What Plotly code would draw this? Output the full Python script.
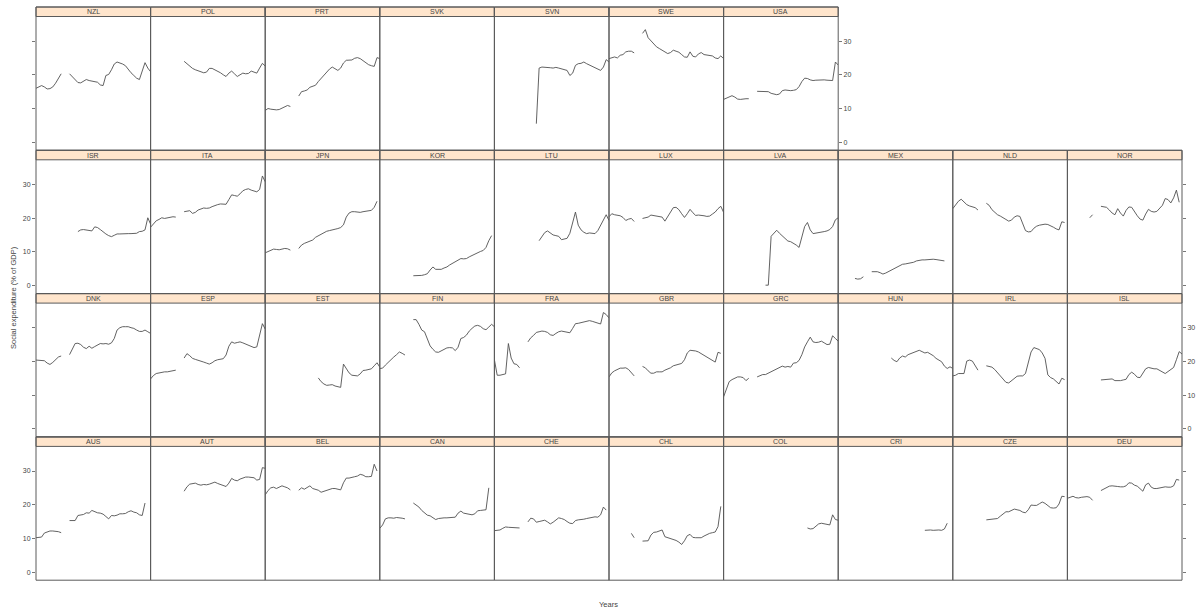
import plotly.graph_objects as go

N = None
YEARS = list(range(1980, 2022))

# ---- data: social expenditure (% of GDP), one value per year 1980..2021 ----
NZL = [16.0, 16.3, 16.8, 16.4, 15.8, 15.9, 16.4, 17.5, 18.8, 20.3, N, N,
       20.3, 19.4, 18.3, 17.7, 17.6, 18.2, 18.6, 18.3, 18.2, 17.9, 17.8, 17.0, 16.8, 19.8, 20.1,
       21.5, 23.2, 23.8, 23.6, 23.2, 22.7, 21.5, 20.6, 19.8, 19.0, 18.6, 21.5, 23.6, 22.0, 20.9]
POL = [N, N, N, N, N, N, N, N, N, N, N, N,
       24.0, 23.2, 22.6, 21.9, 21.5, 21.2, 21.0, 20.6, 20.8, 21.9, 21.9, 21.5, 21.0, 20.6, 20.0,
       19.5, 20.5, 21.1, 20.3, 19.5, 20.0, 20.5, 20.3, 20.4, 21.1, 20.8, 20.5, 22.0, 23.4, 22.6]
PRT = [9.4, 10.0, 9.8, 9.6, 9.6, 9.7, 10.1, 10.6, 10.9, 10.6, N, N,
       13.7, 15.0, 15.2, 15.5, 16.3, 16.5, 16.9, 18.0, 19.0, 19.9, 21.0, 21.7, 22.3, 21.9, 21.3,
       22.0, 23.5, 24.3, 24.3, 24.4, 24.9, 25.1, 24.8, 24.2, 23.6, 23.0, 22.7, 22.5, 25.1, 24.8]
SVK = []
SVN = [N, N, N, N, N, N, N, N, N, N, N, N, N, N, N,
       5.5, 22.0, 22.3, 22.3, 22.2, 22.1, 22.0, 22.2, 22.0, 21.8, 21.6, 21.3, 19.8, 20.5, 22.8,
       23.3, 23.4, 23.8, 23.3, 22.9, 22.5, 22.0, 21.5, 21.3, 22.3, 24.5, 23.8]
SWE = [24.8, 25.0, 25.3, 25.0, 25.8, 26.0, 26.8, 27.0, 27.0, 26.5, N, N,
       32.3, 33.4, 31.0, 30.0, 29.2, 28.3, 27.8, 27.3, 26.6, 26.3, 26.6, 27.3, 27.0, 26.7, 26.0,
       25.3, 25.2, 26.8, 25.5, 25.3, 26.2, 26.6, 26.0, 25.9, 25.6, 25.6, 25.0, 24.8, 25.6, 24.8]
USA = [12.7, 13.0, 13.4, 13.8, 13.4, 12.8, 12.7, 12.9, 12.9, 12.9, N, N,
       15.1, 15.1, 15.1, 15.1, 15.0, 14.5, 14.2, 14.1, 14.3, 15.3, 15.5, 15.3, 15.3, 15.4, 15.6,
       16.5, 18.0, 19.0, 18.9, 18.5, 18.3, 18.4, 18.5, 18.4, 18.5, 18.4, 18.3, 18.3, 23.8, 22.9]

ISR = [N, N, N, N, N, N, N, N, N, N, N, N, N, N, N,
       16.0, 16.5, 16.6, 16.4, 16.3, 16.2, 17.4, 17.2, 16.6, 15.8, 15.3, 14.8, 14.5, 14.9, 15.3,
       15.3, 15.4, 15.4, 15.4, 15.4, 15.5, 15.5, 16.0, 16.1, 16.5, 20.1, 18.2]
ITA = [17.3, 18.3, 19.2, 19.6, 20.1, 19.9, 20.1, 20.3, 20.4, 20.3, N, N,
       21.9, 22.0, 22.2, 21.4, 21.7, 22.4, 22.6, 23.0, 22.9, 23.0, 23.4, 23.8, 24.0, 24.2, 24.1,
       24.1, 25.5, 26.9, 26.7, 26.5, 27.2, 28.1, 28.5, 28.7, 28.3, 28.0, 27.8, 28.5, 32.5, 30.8]
JPN = [9.7, 10.1, 10.5, 10.8, 10.7, 10.6, 10.8, 11.0, 10.9, 10.5, N, N,
       11.0, 12.0, 12.5, 12.8, 13.0, 13.5, 14.3, 14.8, 15.3, 15.7, 16.1, 16.3, 16.4, 16.7, 16.9,
       17.2, 18.0, 20.3, 21.5, 21.9, 21.9, 21.7, 21.7, 21.9, 22.0, 22.1, 22.3, 23.2, 25.0, N]
KOR = [N, N, N, N, N, N, N, N, N, N, N, N,
       2.9, 2.9, 2.9, 3.0, 3.2, 3.5, 4.6, 5.5, 4.8, 4.8, 4.8, 5.2, 5.5, 6.1, 6.6,
       6.9, 7.5, 8.0, 7.9, 8.0, 8.5, 8.9, 9.4, 9.9, 10.1, 10.4, 11.3, 13.3, 14.8, N]
LTU = [N, N, N, N, N, N, N, N, N, N, N, N, N, N, N, N,
       13.3, 14.5, 15.7, 16.2, 15.5, 15.0, 14.8, 14.6, 13.6, 13.8, 14.0, 15.5, 19.0, 21.8, 17.9,
       16.5, 15.8, 15.4, 15.6, 15.6, 15.4, 16.3, 17.8, 19.5, 21.0, 19.3]
LUX = [20.4, 21.3, 21.0, 20.8, 20.7, 20.2, 19.3, 19.7, 19.9, 19.0, N, N,
       19.9, 20.0, 20.3, 20.9, 20.8, 20.6, 20.5, 20.3, 19.1, 20.5, 21.9, 23.1, 23.2, 22.5, 21.3,
       20.2, 21.3, 22.6, 21.6, 20.8, 20.9, 20.9, 20.7, 20.5, 20.6, 21.2, 21.8, 22.8, 23.5, 21.7]
LVA = [N, N, N, N, N, N, N, N, N, N, N, N, N, N, N,
       0.1, 0.1, 14.6, 15.6, 16.4, 15.5, 14.7, 14.0, 13.2, 13.0, 12.6, 12.0, 11.3, 14.5, 17.5,
       18.7, 16.5, 15.4, 15.5, 15.7, 15.8, 16.0, 16.2, 16.6, 17.5, 19.5, 20.1]
MEX = [N, N, N, N, N, N, 2.1, 1.9, 2.0, 2.6, N, N,
       4.1, 4.2, 4.1, 3.8, 3.4, 3.7, 4.1, 4.5, 4.9, 5.4, 5.9, 6.3, 6.4, 6.5, 6.6,
       6.9, 7.3, 7.5, 7.6, 7.6, 7.7, 7.7, 7.8, 7.7, 7.5, 7.4, 7.3, N, N, N]
NLD = [22.8, 23.8, 25.0, 25.6, 24.7, 24.0, 23.6, 23.3, 23.1, 22.4, N, N,
       24.4, 23.8, 22.5, 21.8, 21.0, 20.6, 20.2, 19.6, 19.1, 19.4, 20.3, 20.7, 20.5, 18.2, 16.3,
       15.9, 16.0, 17.0, 17.6, 17.9, 18.1, 18.2, 18.1, 17.8, 17.3, 16.8, 16.5, 18.9, 18.7, N]
NOR = [N, N, N, N, N, N, N, N, 20.1, 21.0, N, N,
       23.5, 23.4, 23.2, 22.4, 21.5, 21.0, 22.8, 21.5, 20.6, 22.3, 23.3, 23.2, 21.8, 20.7, 19.7,
       19.4, 21.2, 22.6, 22.0, 21.8, 22.0, 22.8, 23.8, 25.8, 25.5, 24.5, 26.0, 28.3, 24.7, N]

DNK = [20.4, 20.4, 20.4, 20.2, 19.5, 19.1, 19.7, 20.6, 21.3, 21.6, N, N,
       22.0, 23.8, 25.3, 25.4, 25.0, 24.2, 23.8, 24.5, 23.9, 24.4, 24.8, 25.3, 25.2, 25.3, 25.1,
       25.5, 26.8, 29.3, 30.0, 30.3, 30.3, 30.3, 30.0, 29.8, 29.3, 28.9, 28.9, 29.3, 28.8, 28.3]
ESP = [14.8, 15.8, 16.4, 16.6, 16.8, 16.9, 16.9, 17.1, 17.2, 17.4, N, N,
       21.0, 22.3, 21.7, 20.9, 20.6, 20.4, 20.1, 19.8, 19.5, 19.2, 19.6, 20.2, 20.5, 20.6, 20.8,
       21.9, 24.5, 25.8, 25.4, 25.6, 25.8, 25.5, 25.2, 24.8, 24.4, 24.1, 24.3, 27.5, 31.2, 29.6]
EST = [N, N, N, N, N, N, N, N, N, N, N, N, N, N, N, N, N, N, N,
       15.1, 14.0, 13.3, 12.9, 13.0, 13.1, 12.7, 12.5, 12.3, 19.2, 17.8, 16.6, 15.9, 15.7, 15.7,
       16.3, 17.3, 17.4, 17.5, 17.8, 18.7, 19.6, 18.3]
FIN = [17.9, 18.0, 18.9, 19.8, 20.6, 21.3, 22.0, 22.8, 22.4, 21.9, N, N,
       32.4, 32.4, 31.0, 29.3, 28.8, 26.6, 24.6, 23.6, 22.8, 22.7, 23.1, 23.6, 24.0, 24.1, 24.0,
       23.2, 24.2, 26.8, 27.1, 27.8, 29.0, 29.8, 30.5, 30.7, 30.4, 29.7, 29.4, 30.2, 31.0, 30.3]
FRA = [20.5, 15.9, 15.9, 16.1, 16.3, 25.3, 21.0, 19.3, 19.1, 18.1, N, N,
       25.8, 27.0, 27.7, 28.6, 28.8, 29.0, 28.9, 28.6, 27.9, 27.7, 28.3, 28.8, 29.0, 28.9, 28.6,
       28.5, 29.8, 31.2, 31.3, 31.5, 31.7, 31.9, 32.1, 31.9, 31.6, 31.4, 31.1, 34.5, 33.9, 32.9]
GBR = [15.4, 16.6, 17.2, 17.6, 18.0, 18.0, 18.1, 17.6, 16.6, 15.7, N, N,
       18.5, 18.1, 17.2, 16.5, 16.5, 16.9, 16.9, 16.9, 17.4, 17.7, 18.1, 18.7, 19.0, 19.1, 19.4,
       20.5, 22.5, 23.3, 23.3, 23.1, 22.8, 22.3, 21.9, 21.4, 20.9, 20.4, 19.8, 22.7, 22.4, N]
GRC = [9.5, 11.5, 14.0, 14.6, 15.1, 15.4, 15.4, 15.2, 14.3, 15.0, N, N,
       15.4, 15.7, 16.1, 16.1, 16.5, 16.9, 17.3, 17.6, 18.1, 18.6, 18.3, 18.5, 18.3, 19.5, 19.6,
       20.3, 22.0, 24.3, 25.8, 27.2, 25.8, 25.6, 25.7, 26.0, 25.5, 25.0, 25.1, 27.6, 26.8, 26.0]
HUN = [N, N, N, N, N, N, N, N, N, N, N, N, N, N, N, N, N, N, N,
       21.0, 20.3, 19.9, 21.0, 21.6, 21.3, 22.0, 22.3, 22.7, 23.1, 23.3, 22.9, 22.5, 22.7, 22.2,
       21.7, 20.9, 20.3, 19.9, 18.6, 17.9, 18.4, 17.9]
IRL = [15.7, 15.9, 16.4, 16.5, 16.4, 20.1, 20.4, 20.1, 18.9, 17.4, N, N,
       18.7, 18.6, 18.3, 17.6, 16.7, 15.6, 14.8, 13.8, 13.6, 14.2, 14.9, 15.6, 15.7, 15.7, 16.4,
       19.6, 22.8, 24.1, 23.8, 23.5, 22.5, 20.9, 16.0, 15.2, 14.8, 14.1, 13.3, 15.0, 14.6, N]
ISL = [N, N, N, N, N, N, N, N, N, N, N, N,
       14.5, 14.6, 14.7, 14.9, 14.8, 14.3, 14.2, 14.3, 14.5, 14.7, 16.1, 16.8, 16.2, 15.3, 15.2,
       16.4, 17.8, 18.2, 17.9, 17.8, 17.8, 17.3, 17.0, 16.4, 17.0, 17.5, 18.2, 20.5, 22.9, 22.2]

AUS = [10.2, 10.3, 10.4, 11.6, 12.0, 12.2, 12.2, 12.2, 12.0, 11.7, N, N,
       15.3, 15.4, 15.3, 16.8, 17.0, 17.1, 17.6, 17.5, 18.3, 17.9, 17.6, 17.5, 17.2, 16.5, 15.8,
       16.8, 16.7, 16.9, 17.3, 17.3, 17.4, 17.9, 18.2, 17.8, 17.6, 17.0, 16.8, 20.5, N, N]
AUT = [N, N, N, N, N, N, N, N, N, N, N, N,
       24.0, 25.3, 26.1, 26.3, 26.4, 26.0, 25.8, 26.0, 25.9, 26.1, 26.4, 26.7, 26.3, 26.0, 25.7,
       25.4, 26.4, 27.8, 27.3, 27.1, 27.6, 28.0, 28.2, 28.2, 28.2, 28.0, 27.3, 27.5, 31.0, 30.8]
BEL = [22.9, 24.2, 25.0, 25.2, 24.8, 25.2, 25.6, 25.3, 25.0, 24.4, N, N,
       24.3, 25.0, 24.6, 25.2, 25.6, 24.8, 24.5, 24.3, 23.7, 24.0, 24.3, 24.7, 24.8, 24.8, 24.5,
       24.4, 26.5, 27.9, 27.9, 28.0, 28.3, 28.5, 29.0, 28.8, 28.3, 28.3, 28.4, 32.0, 30.0, N]
CAN = [13.0, 14.0, 15.8, 16.1, 16.1, 16.0, 16.2, 16.2, 16.0, 15.8, N, N,
       20.5, 20.0, 19.3, 18.3, 17.6, 16.9, 16.7, 16.2, 15.6, 15.9, 16.1, 16.1, 16.1, 16.1, 16.1,
       16.3, 17.5, 18.1, 17.5, 17.3, 17.0, 17.0, 17.3, 18.2, 18.3, 18.3, 18.5, 25.0, N, N]
CHE = [12.3, 12.4, 12.5, 13.0, 13.4, 13.3, 13.2, 13.2, 13.2, 13.1, N, N,
       14.9, 16.0, 15.8, 14.8, 15.0, 15.3, 15.4, 14.9, 14.3, 14.8, 15.6, 16.1, 15.9, 15.6, 15.0,
       14.5, 14.4, 15.3, 15.5, 15.5, 15.7, 15.9, 16.1, 16.2, 16.4, 16.3, 17.0, 19.3, 18.4, N]
CHL = [N, N, N, N, N, N, N, N, 11.5, 10.2, N, N,
       9.2, 9.2, 9.3, 11.0, 11.8, 11.9, 12.1, 12.5, 10.5, 10.2, 10.0, 9.8, 9.4, 8.9, 8.2,
       9.3, 10.8, 11.2, 10.3, 10.2, 10.2, 10.2, 10.7, 11.2, 11.5, 11.7, 11.9, 13.5, 19.5, N]
COL = [N, N, N, N, N, N, N, N, N, N, N, N, N, N, N, N, N, N, N, N, N, N, N, N, N, N, N, N, N, N,
       13.1, 12.8, 12.9, 13.6, 14.3, 14.5, 14.3, 14.0, 14.0, 17.0, 15.6, 15.4]
CRI = [N, N, N, N, N, N, N, N, N, N, N, N, N, N, N, N, N, N, N, N, N, N, N, N, N, N, N, N, N, N, N,
       12.4, 12.5, 12.5, 12.4, 12.5, 12.5, 12.4, 12.8, 14.5, N, N]
CZE = [N, N, N, N, N, N, N, N, N, N, N, N,
       15.5, 15.6, 15.6, 15.8, 15.9, 16.6, 17.3, 17.9, 17.9, 18.2, 18.7, 18.5, 18.3, 17.8, 17.6,
       18.5, 19.9, 19.8, 19.8, 20.3, 20.8, 20.4, 19.6, 19.1, 19.0, 19.1, 20.2, 22.5, 22.4, N]
DEU = [21.9, 22.3, 22.5, 22.1, 22.0, 22.2, 22.3, 22.4, 22.2, 21.3, N, N,
       24.2, 24.7, 25.2, 25.5, 25.6, 25.6, 25.4, 25.3, 25.3, 25.6, 26.5, 26.4, 25.8, 25.5, 24.8,
       24.0, 25.9, 26.4, 25.2, 24.8, 24.8, 25.0, 25.1, 25.3, 25.2, 25.2, 25.6, 27.5, 27.3, N]

# panel layout, top row first (lattice fills bottom-up)
ROWS = [
    [("NZL", NZL), ("POL", POL), ("PRT", PRT), ("SVK", SVK), ("SVN", SVN), ("SWE", SWE), ("USA", USA)],
    [("ISR", ISR), ("ITA", ITA), ("JPN", JPN), ("KOR", KOR), ("LTU", LTU), ("LUX", LUX),
     ("LVA", LVA), ("MEX", MEX), ("NLD", NLD), ("NOR", NOR)],
    [("DNK", DNK), ("ESP", ESP), ("EST", EST), ("FIN", FIN), ("FRA", FRA), ("GBR", GBR),
     ("GRC", GRC), ("HUN", HUN), ("IRL", IRL), ("ISL", ISL)],
    [("AUS", AUS), ("AUT", AUT), ("BEL", BEL), ("CAN", CAN), ("CHE", CHE), ("CHL", CHL),
     ("COL", COL), ("CRI", CRI), ("CZE", CZE), ("DEU", DEU)],
]
Y_TICKS = [0, 10, 20, 30]

# ---- geometry (pixels) ----
W, H = 1200, 612
X0, PW = 36.0, 114.6
TOPS = [7.0, 150.3, 293.6, 436.9]
STRIP_H = 9.5
CELL_H = 143.3
Y_RANGE = [-2.4, 37.3]
FONT = "Liberation Sans, Arial, sans-serif"
BORDER = "#5a5a5a"
TXT = "#444444"

fig = go.Figure()
layout = dict(
    width=W, height=H, autosize=False,
    margin=dict(l=0, r=0, t=0, b=0),
    paper_bgcolor="white", plot_bgcolor="white",
    showlegend=False, font=dict(family=FONT, size=7, color=TXT),
)
shapes, annotations = [], []

n = 0
for r, row in enumerate(ROWS):
    top = TOPS[r]
    for c, (name, vals) in enumerate(row):
        n += 1
        sfx = "" if n == 1 else str(n)
        xl, xr = X0 + c * PW, X0 + (c + 1) * PW
        yb, yt = top + CELL_H, top + STRIP_H
        layout["xaxis" + sfx] = dict(
            domain=[xl / W, xr / W], range=[YEARS[0], YEARS[-1]],
            visible=False, anchor="y" + sfx, fixedrange=True)
        ydict = dict(
            domain=[1 - yb / H, 1 - yt / H], range=Y_RANGE, anchor="x" + sfx,
            showgrid=False, zeroline=False, showline=False, fixedrange=True,
            tickvals=Y_TICKS, ticks="", showticklabels=False,
            tickfont=dict(size=7, color=TXT, family=FONT),
            ticklen=3, tickcolor="#777", tickwidth=1)
        if c == 0:
            ydict.update(side="left", ticks="outside", showticklabels=(r % 2 == 1))
        elif c == len(row) - 1:
            ydict.update(side="right", ticks="outside", showticklabels=(r % 2 == 0))
        layout["yaxis" + sfx] = ydict

        xs = YEARS[:len(vals)]
        fig.add_trace(go.Scatter(
            x=xs, y=vals, mode="lines", connectgaps=False,
            line=dict(color="#505050", width=0.9),
            xaxis="x" + sfx, yaxis="y" + sfx, hoverinfo="skip"))

        # strip
        shapes.append(dict(type="rect", xref="paper", yref="paper",
                           x0=xl / W, x1=xr / W, y0=1 - yt / H, y1=1 - top / H,
                           fillcolor="#FFE5CC", line=dict(color=BORDER, width=1), layer="below"))
        # panel border
        shapes.append(dict(type="rect", xref="paper", yref="paper",
                           x0=xl / W, x1=xr / W, y0=1 - yb / H, y1=1 - top / H,
                           fillcolor="rgba(0,0,0,0)", line=dict(color=BORDER, width=1), layer="above"))
        annotations.append(dict(
            text=name, xref="paper", yref="paper",
            x=(xl + xr) / 2 / W, y=1 - (top + STRIP_H / 2) / H,
            xanchor="center", yanchor="middle", showarrow=False,
            font=dict(size=7, color=TXT, family=FONT)))

annotations.append(dict(
    text="Social expenditure (% of GDP)", xref="paper", yref="paper",
    x=13 / W, y=1 - 298 / H, textangle=-90, showarrow=False,
    xanchor="center", yanchor="middle", font=dict(size=7.5, color=TXT, family=FONT)))
annotations.append(dict(
    text="Years", xref="paper", yref="paper",
    x=609 / W, y=1 - 604 / H, showarrow=False,
    xanchor="center", yanchor="middle", font=dict(size=7.5, color=TXT, family=FONT)))

layout["shapes"] = shapes
layout["annotations"] = annotations
fig.update_layout(**layout)
fig.write_html("out.html")
